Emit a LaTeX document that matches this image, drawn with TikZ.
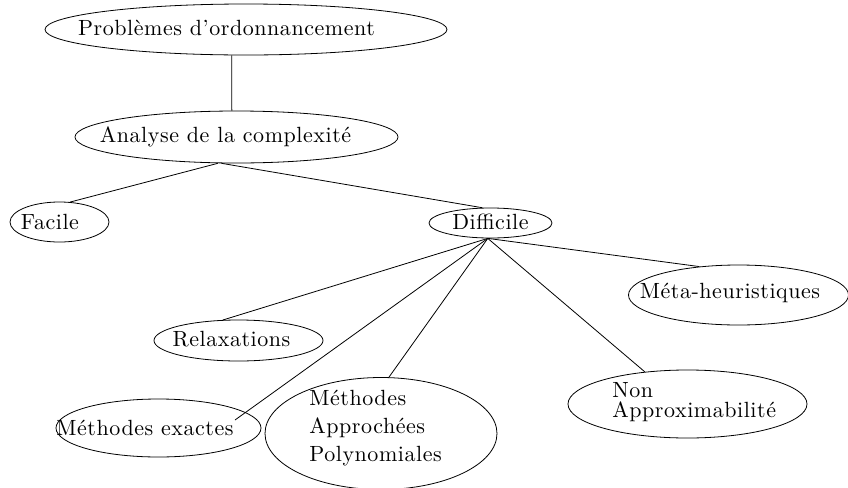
\documentclass[tikz,border=0pt]{standalone}
\usepackage{fontspec}
\setmainfont{Latin Modern Roman}[LetterSpace=2.5]
\usetikzlibrary{shapes.geometric}

\tikzset{
  oval/.style={draw, ellipse, inner sep=0pt},
  lbl/.style={inner sep=0pt, font=\fontsize{11}{13}\selectfont}
}

\begin{document}
\begin{tikzpicture}[x=0.5pt,y=-0.5pt]
  			%\draw[help lines,step=50] (0,0) grid (848,488); %Hilfsgitter
  			\useasboundingbox (0,0) rectangle (848,488);
  			
  			% ellipses (width and height in pt = radii in px)
  			\node[oval,minimum width=201pt,minimum height=25.5pt] (prob) at (246,29.5) {}; % root
  			\node[oval,minimum width=161.5pt,minimum height=26pt] (ana) at (236.5,137) {};
  			\node[oval,minimum width=49.5pt,minimum height=20pt] (fac) at (59.5,222) {};
  			\node[oval,minimum width=61.5pt,minimum height=15pt] (dif) at (490.5,223) {};
  			\node[oval,minimum width=110pt,minimum height=30pt] (meta) at (738.5,295) {};
  			\node[oval,minimum width=84.5pt,minimum height=20.5pt] (rel) at (238.5,340.5) {};
  			\node[oval,minimum width=102.5pt,minimum height=29pt] (exa) at (158.5,428) {};
  			\node[oval,minimum width=116pt,minimum height=56pt] (map) at (381,433.5) {};
  			\node[oval,minimum width=119.5pt,minimum height=34pt] (non) at (687.5,404) {};
  			
  			% texts
  			\node[lbl] (probtext) at (226.5,28) {Problèmes d'ordonnancement};
  			\node[lbl] (anatext) at (225.5,137) {Analyse de la complexité};
  			\node[lbl] (factext) at (50,222) {Facile};
  			\node[lbl] (diftext) at (490.5,222) {Difficile};
  			\node[lbl] (metatext) at (730,293) {Méta-heuristiques};
  			\node[lbl] (reltext) at (231.5,339) {Relaxations};
  			\node[lbl] (exatext) at (145,428) {Méthodes exactes};
  			\node[lbl,anchor=west,align=left] (maptext) at (309,428) {Méthodes\\[1pt] Approchées\\[1pt] Polynomiales};
  			\node[lbl,anchor=west,align=left] (nontext) at (612,402) {Non\\[-3pt] Approximabilité};
  			
  			% connectors
  			\coordinate (exaend) at (235,420); % line stops inside the ellipse
  			\draw (prob.241) -- (ana.100);
  			\draw (ana.235) -- (fac.62);
  			\draw (ana.240) -- (dif.118);
  			\draw (dif.260) -- (rel.127);
  			\draw (dif.260) -- (exaend);
  			\draw (dif.260) -- (map.82);
  			\draw (dif.260) -- (non.143);
  			\draw (dif.260) -- (meta.144);
  			
  			\end{tikzpicture}
\end{document}
